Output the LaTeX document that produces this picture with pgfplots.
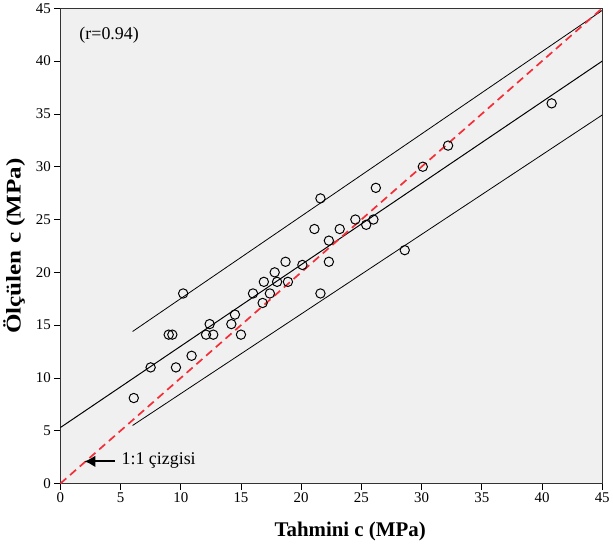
\documentclass[border=0pt]{standalone}
\usepackage{fontspec}
\setmainfont{Liberation Serif}
\usepackage{graphicx}
\usepackage{pgfplots}
\pgfplotsset{compat=1.18}
\usetikzlibrary{arrows.meta}
\definecolor{bgc}{RGB}{240,240,240}
\definecolor{redline}{RGB}{245,45,55}

% observed vs predicted
\pgfplotstableread{
x y
40.8 36.0
32.2 32.0
30.1 30.0
26.2 28.0
21.6 27.0
21.1 24.1
23.2 24.1
24.5 25.0
25.4 24.5
26.0 25.0
22.3 23.0
22.3 21.0
28.6 22.1
18.7 21.0
20.1 20.7
17.8 20.0
16.9 19.1
18.0 19.1
18.9 19.1
21.6 18.0
16.0 18.0
17.4 18.0
10.2 18.0
16.8 17.1
14.5 16.0
14.2 15.1
12.4 15.1
12.1 14.1
12.7 14.1
15.0 14.1
9.0 14.1
9.3 14.1
10.9 12.1
7.5 11.0
9.6 11.0
6.1 8.1
}\pts

\begin{document}
\begin{tikzpicture}
\begin{axis}[
  width=545pt, height=478pt, scale only axis,
  xmin=0, xmax=45, ymin=0, ymax=45,
  xtick={0,5,...,45}, ytick={0,5,...,45},
  tick align=outside, xtick pos=left, ytick pos=left,
  major tick length=6pt,
  axis background/.style={fill=bgc},
  axis line style={black!80, line width=0.9pt},
  tick style={black, line width=0.8pt},
  ticklabel style={font=\fontsize{15}{15}\selectfont},
  /pgf/number format/assume math mode=true,
  xlabel={Tahmini c (MPa)},
  ylabel={\scalebox{1.2}[1]{Ölçülen c (MPa)}},
  label style={font=\bfseries\fontsize{21}{22}\selectfont},
  xlabel style={xshift=19pt},
  xlabel shift=12pt, ylabel shift=4pt,
]
% regression line
\addplot[black, line width=1pt] coordinates {(0,5.3) (45,40.0)};
% prediction band
\addplot[black, line width=0.8pt] coordinates {(6.0,14.4) (45,44.8)};
\addplot[black, line width=0.8pt] coordinates {(6.0,5.5) (45,34.9)};
% 1:1 line
\addplot[redline, line width=1.7pt, dash pattern=on 8pt off 5pt] coordinates {(0,0) (45,45)};
% data
\addplot[only marks, mark=o, mark size=4.7pt, mark options={black, line width=1pt}] table {\pts};
\node[anchor=west, font=\fontsize{18}{18}\selectfont] at (axis cs:1.3,42.5) {(r=0.94)};
\draw[-{Latex[length=11pt,width=12pt]}, line width=2.2pt] (axis cs:4.5,2.1) -- (axis cs:2.0,2.1);
\node[anchor=west, font=\fontsize{18}{18}\selectfont] at (axis cs:4.8,2.2) {1:1 çizgisi};
\end{axis}
\end{tikzpicture}
\end{document}
